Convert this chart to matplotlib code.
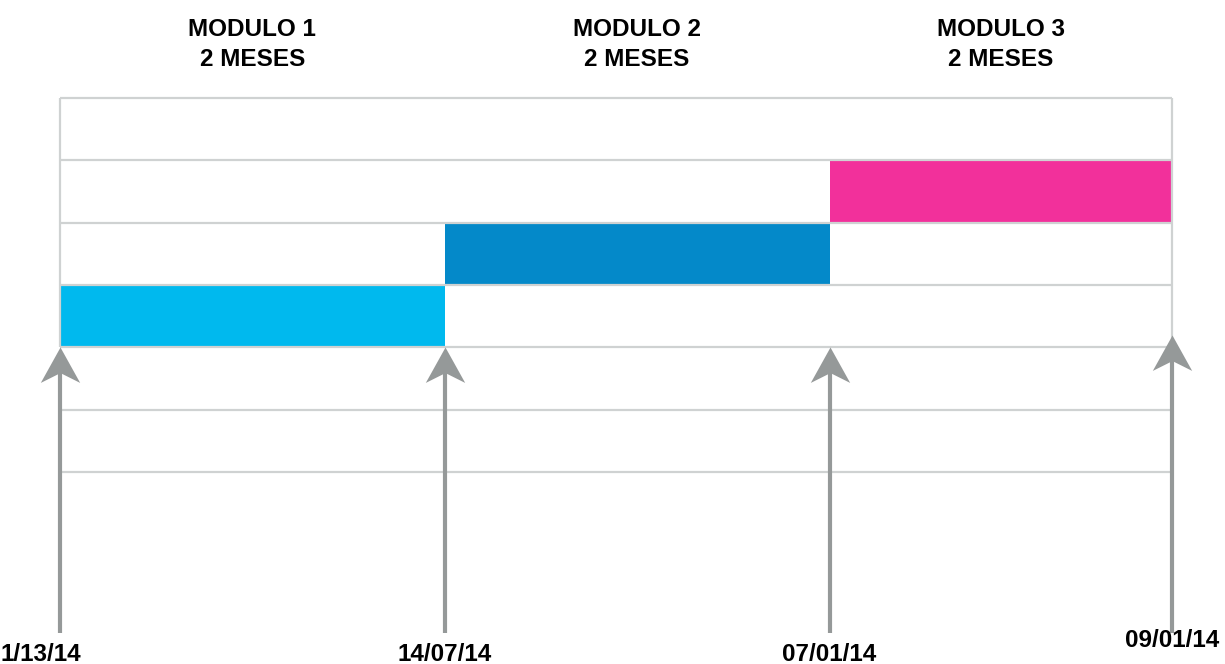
import numpy as np
import matplotlib.pyplot as plt
from matplotlib.path import Path

# datos del cronograma
modulos = ['MODULO 1\n2 MESES', 'MODULO 2\n2 MESES', 'MODULO 3\n2 MESES']
inicio = [0, 2, 4]          # meses desde el inicio
duracion = [2, 2, 1.78]
fila = [3, 2, 1]            # fila de la grilla donde va cada barra
colores = ['#00B9EE', '#0489C9', '#F2309B']
fechas = ['1/13/14', '14/07/14', '07/01/14', '09/01/14']
pos_fechas = [0, 2, 4, 5.78]

n_filas = 6
gris_grilla = '#CFD2D2'
gris_flecha = '#959999'

plt.rcParams['font.family'] = ['Liberation Sans', 'DejaVu Sans']

fig = plt.figure(figsize=(12.25, 6.64), dpi=100)
ax = fig.add_axes([60 / 1225, 1 - 472 / 664, 1112 / 1225, 374 / 664])
fin = pos_fechas[-1]
ax.set_xlim(0, fin)
ax.set_ylim(n_filas, 0)
ax.axis('off')

# barras
ax.barh([f + 0.5 for f in fila], duracion, left=inicio, height=1,
        color=colores, zorder=1)

# grilla
ax.hlines(range(n_filas + 1), 0, fin, color=gris_grilla, lw=1.6, zorder=2,
          clip_on=False)
ax.vlines([0, fin], 0, 4, color=gris_grilla, lw=1.6, zorder=2, clip_on=False)

# titulos de los modulos
for m, x0, d in zip(modulos, inicio, duracion):
    ax.text(x0 + d / 2, -0.86, m, ha='center', va='center', fontsize=17.5,
            fontweight='bold', linespacing=1.38)

# cabeza de flecha con muesca
cabeza = Path([(0, 0), (0.5, -0.9), (0, -0.65), (-0.5, -0.9), (0, 0)],
              [Path.MOVETO, Path.LINETO, Path.LINETO, Path.LINETO, Path.CLOSEPOLY])

punta = [4, 4, 4, 3.8]
base = 8.58
for i, (x, lab) in enumerate(zip(pos_fechas, fechas)):
    ax.plot([x, x], [base, punta[i] + 0.3], color=gris_flecha, lw=3,
            solid_capstyle='butt', clip_on=False, zorder=3)
    ax.plot([x], [punta[i]], marker=cabeza, markersize=51, color=gris_flecha,
            markeredgewidth=0, clip_on=False, zorder=4)
    if i == 0:
        ax.annotate(lab, (x, 8.92), xytext=(-59, 0), textcoords='offset pixels',
                    ha='left', va='center', fontsize=17.5, fontweight='bold',
                    annotation_clip=False)
    elif i == len(fechas) - 1:
        ax.text(x, 8.7, lab, ha='center', va='center', fontsize=17.5,
                fontweight='bold', clip_on=False)
    else:
        ax.text(x, 8.92, lab, ha='center', va='center', fontsize=17.5,
                fontweight='bold', clip_on=False)

fig.savefig('out.png', dpi=100)
